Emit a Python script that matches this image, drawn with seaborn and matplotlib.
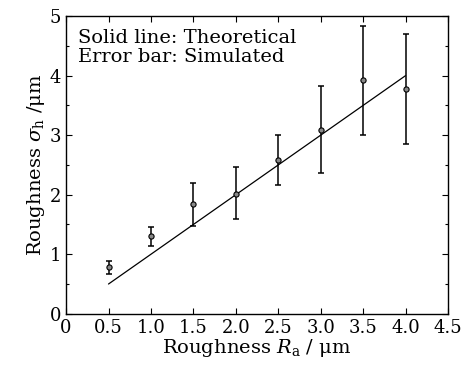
import matplotlib
matplotlib.use("Agg")
import matplotlib.pyplot as plt
import seaborn as sns
import pandas as pd

# simulated roughness (error bars) vs. theoretical line
ra = [0.5, 1.0, 1.5, 2.0, 2.5, 3.0, 3.5, 4.0]
sigma_mean = [0.78, 1.31, 1.85, 2.02, 2.58, 3.09, 3.92, 3.77]
sigma_low = [0.67, 1.14, 1.48, 1.60, 2.16, 2.36, 3.00, 2.85]
sigma_high = [0.89, 1.45, 2.19, 2.47, 3.01, 3.83, 4.84, 4.70]

theory_x = [0.5, 4.0]
theory_y = [0.5, 4.0]

df = pd.DataFrame({"ra": ra, "sigma": sigma_mean})
err_lo = [m - l for m, l in zip(sigma_mean, sigma_low)]
err_hi = [h - m for m, h in zip(sigma_mean, sigma_high)]

sns.set_style("ticks")
plt.rcParams["font.family"] = ["DejaVu Serif"]
plt.rcParams["mathtext.fontset"] = "dejavuserif"
plt.rcParams["text.color"] = "black"
plt.rcParams["axes.labelcolor"] = "black"
plt.rcParams["xtick.color"] = "black"
plt.rcParams["ytick.color"] = "black"

fig, ax = plt.subplots(figsize=(4.72, 3.67), dpi=100)

sns.lineplot(x=theory_x, y=theory_y, color="black", lw=0.9, ax=ax)
ax.errorbar(ra, sigma_mean, yerr=[err_lo, err_hi], fmt="none",
            ecolor="black", elinewidth=1.1, capsize=2.5, capthick=1.1)
sns.scatterplot(data=df, x="ra", y="sigma", s=14, color="#888888",
                edgecolor="black", linewidth=0.8, ax=ax, zorder=3)

ax.set_xlim(0, 4.5)
ax.set_ylim(0, 5)
ax.set_xticks([0, 0.5, 1.0, 1.5, 2.0, 2.5, 3.0, 3.5, 4.0, 4.5])
ax.set_xticklabels(["0", "0.5", "1.0", "1.5", "2.0", "2.5", "3.0", "3.5", "4.0", "4.5"])
ax.set_yticks([0, 1, 2, 3, 4, 5])
ax.set_yticks([0.5, 1.5, 2.5, 3.5, 4.5], minor=True)
ax.tick_params(which="both", direction="in", top=True, right=True,
               labelsize=13, width=0.8)
ax.tick_params(which="major", length=4)
ax.tick_params(which="minor", length=2.5)
ax.tick_params(axis="x", pad=4)
for s in ax.spines.values():
    s.set_linewidth(1.0)
    s.set_color("black")

ax.set_xlabel(r"Roughness $R_\mathrm{a}$ / μm", fontsize=14, labelpad=0)
ax.set_ylabel(r"Roughness $\sigma_\mathrm{h}$ /μm", fontsize=14, labelpad=2)

ax.text(0.14, 4.78, "Solid line: Theoretical\nError bar: Simulated",
        fontsize=14, va="top", ha="left", linespacing=1.05)

fig.subplots_adjust(left=0.14, right=0.949, top=0.956, bottom=0.145)
fig.savefig("out.png", dpi=100)
